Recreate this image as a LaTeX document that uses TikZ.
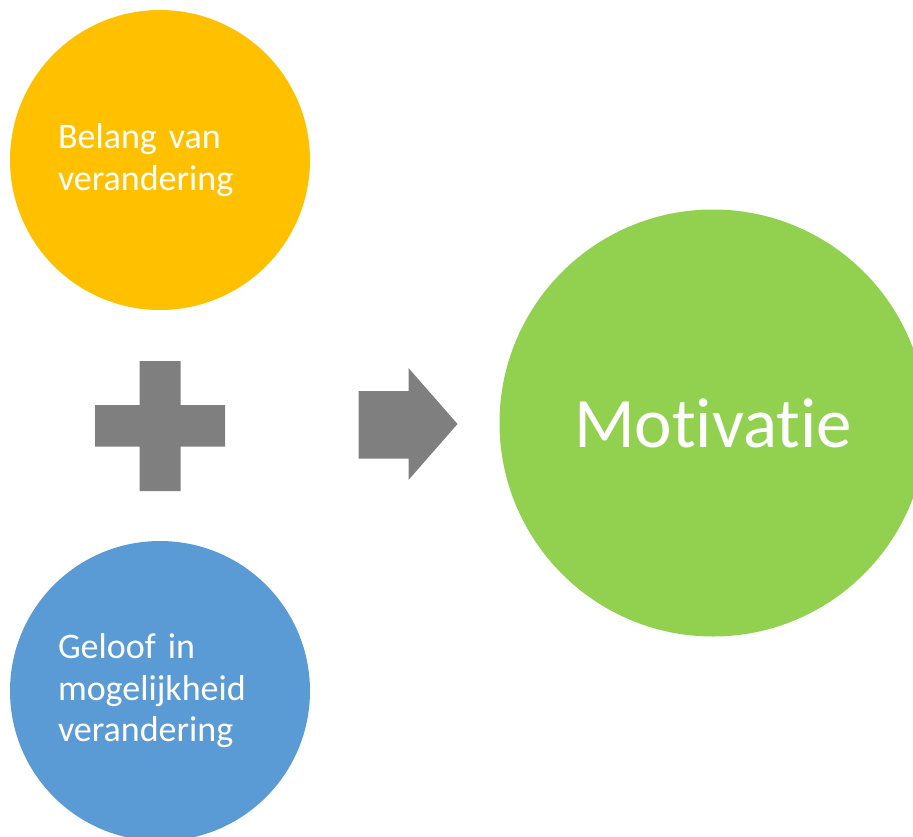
\documentclass[tikz,border=0pt]{standalone}
\usepackage{fontspec}
\setmainfont{Carlito}[Ligatures=NoCommon]
\usetikzlibrary{positioning}
\definecolor{belangorange}{HTML}{FFC000}
\definecolor{geloofblue}{HTML}{5B9BD5}
\definecolor{motivgreen}{HTML}{92D050}
\definecolor{shapegray}{HTML}{7F7F7F}
\newcommand{\tightspace}{\spaceskip=0.2em\relax}
\begin{document}
\begin{tikzpicture}[x=1pt, y=-1pt,
      bubble/.style={circle, fill=#1, text=white, minimum size=300pt, inner sep=0pt},
      smalltext/.style={font={\fontsize{36}{41.5}\selectfont\tightspace}, text width=204pt, align=left},
      bigtext/.style={font=\fontsize{71}{84}\selectfont}]
  \useasboundingbox (0,0) rectangle (913,836);

  \node[bubble=belangorange, smalltext] (belang) at (160,160) {Belang van\\verandering};
  \node[bubble=geloofblue, smalltext] (geloof) at (160,691) {Geloof in\\mogelijkheid\\verandering};
  \node[bubble=motivgreen, bigtext, minimum size=427pt] (motivatie) at (713,423) {Motivatie};

  % Plus
  \fill[shapegray] (139.5,361) -- (180.5,361) -- (180.5,405) -- (225,405) -- (225,446.5)
    -- (180.5,446.5) -- (180.5,491) -- (139.5,491) -- (139.5,446.5) -- (95,446.5)
    -- (95,405) -- (139.5,405) -- cycle;

  % Arrow
  \fill[shapegray] (358.5,391) -- (408.5,391) -- (408.5,368) -- (457.5,424)
    -- (408.5,480) -- (408.5,458.5) -- (358.5,458.5) -- cycle;
\end{tikzpicture}
\end{document}
